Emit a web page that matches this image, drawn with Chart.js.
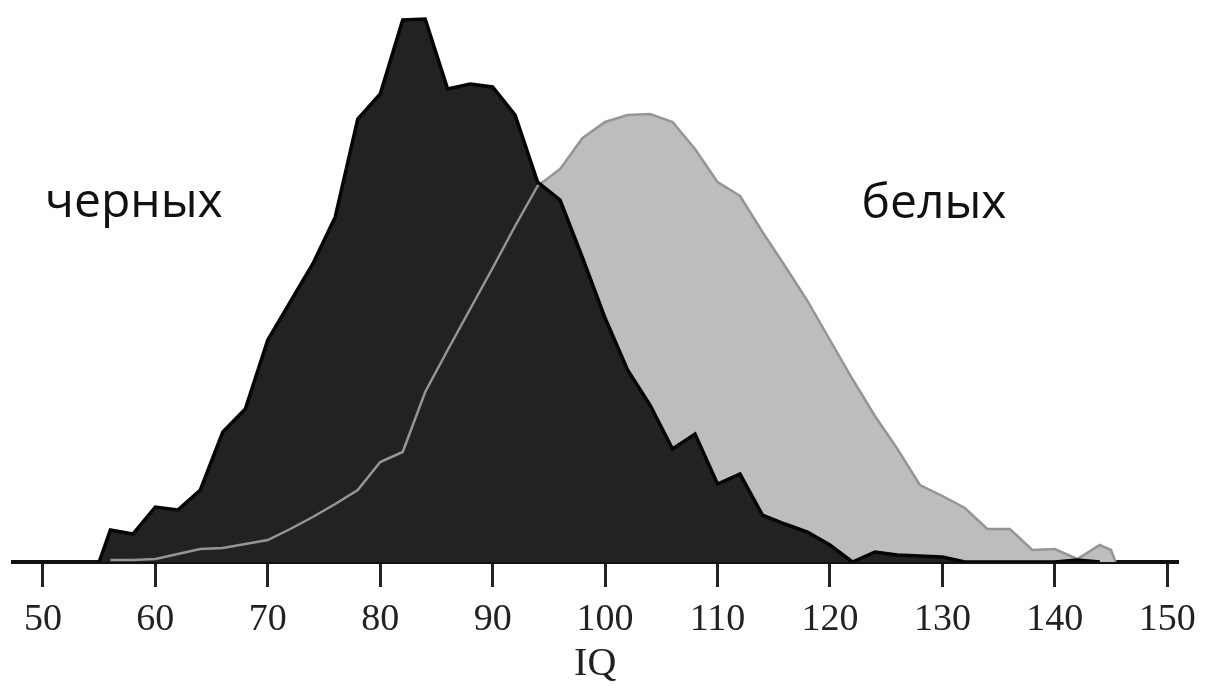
<!DOCTYPE html>
<html>
<head>
<meta charset="utf-8">
<script src="https://cdn.jsdelivr.net/npm/chart.js@4.4.1/dist/chart.umd.min.js"></script>
<style>
html, body { margin: 0; padding: 0; background: #fff; }
#wrap { width: 1210px; height: 692px; }
</style>
</head>
<body>
<div id="wrap"><canvas id="iqChart"></canvas></div>
<script>
// IQ distribution (relative frequency)
const blackIQ = [55, 56, 58, 60, 62, 64, 66, 68, 70, 72, 74, 76, 78, 80, 82, 84, 86, 88, 90, 92, 94, 96, 98, 100,
                 102, 104, 106, 108, 110, 112, 114, 116, 118, 120, 122, 124, 126, 128, 130, 132, 134, 136, 138, 140, 142, 144];
const blackFreq = [0, 0.32, 0.28, 0.55, 0.52, 0.72, 1.30, 1.53, 2.22, 2.60, 2.98, 3.45, 4.43, 4.68, 5.42, 5.43, 4.73, 4.78, 4.75, 4.47, 3.80, 3.62, 3.04, 2.44,
                   1.92, 1.57, 1.13, 1.28, 0.78, 0.88, 0.47, 0.38, 0.30, 0.17, 0, 0.10, 0.07, 0.06, 0.05, 0, 0, 0, 0, 0, 0.02, 0];

const whiteIQ = [56, 58, 60, 62, 64, 66, 68, 70, 72, 74, 76, 78, 80, 82, 84, 86, 88, 90, 92, 94, 96, 98, 100,
                 102, 104, 106, 108, 110, 112, 114, 116, 118, 120, 122, 124, 126, 128, 130, 132, 134, 136, 138, 140, 142, 144, 145, 145.4];
const whiteFreq = [0.02, 0.02, 0.03, 0.08, 0.13, 0.14, 0.18, 0.22, 0.33, 0.45, 0.58, 0.72, 1.00, 1.10, 1.70, 2.12, 2.53, 2.94, 3.36, 3.76, 3.93, 4.24, 4.40,
                   4.47, 4.48, 4.40, 4.13, 3.80, 3.66, 3.30, 2.96, 2.61, 2.22, 1.83, 1.46, 1.13, 0.77, 0.66, 0.54, 0.33, 0.33, 0.12, 0.13, 0.03, 0.17, 0.12, 0];

const xTicks = [50, 60, 70, 80, 90, 100, 110, 120, 130, 140, 150];
const groupLabels = ['черных', 'белых'];
const axisTitle = 'IQ';

function toPoints(xs, ys){
    let pts = [];
    for(let i=0; i<xs.length; i++){
        pts.push({x: xs[i], y: ys[i]});
    }
    return pts;
}

// draws the two group names inside the plot
const groupLabelPlugin = {
    id: 'groupLabels',
    afterDraw(chart){
        const ctx = chart.ctx;
        const x = chart.scales.x, y = chart.scales.y;
        ctx.save();
        ctx.font = '48px "Open Sans"';
        ctx.fillStyle = '#111';
        ctx.textBaseline = 'alphabetic';
        ctx.fillText(groupLabels[0], x.getPixelForValue(50.17), y.getPixelForValue(3.45));
        ctx.fillText(groupLabels[1], x.getPixelForValue(122.8), y.getPixelForValue(3.44));
        ctx.restore();
    }
};

const canvas = document.getElementById('iqChart').getContext('2d');
new Chart(canvas, {
    type: 'line',
    data: {
        datasets: [
            {
                label: groupLabels[0],
                data: toPoints(blackIQ, blackFreq),
                borderColor: '#050505',
                borderWidth: 3.5,
                backgroundColor: '#222222',
                fill: 'origin',
                pointRadius: 0,
                tension: 0
            },
            {
                label: groupLabels[1],
                data: toPoints(whiteIQ, whiteFreq),
                borderColor: '#959595',
                borderWidth: 2.5,
                backgroundColor: '#bdbdbd',
                fill: 'origin',
                pointRadius: 0,
                tension: 0
            }
        ]
    },
    options: {
        responsive: true,
        maintainAspectRatio: false,
        animation: false,
        layout: {
            padding: {left: 13, right: 28, top: 12, bottom: 0}
        },
        plugins: {
            legend: {display: false},
            tooltip: {enabled: false},
            filler: {drawTime: 'beforeDatasetsDraw'}
        },
        scales: {
            x: {
                type: 'linear',
                min: 47.34,
                max: 150.9,
                afterBuildTicks: (scale) => {
                    scale.ticks = xTicks.map(v => ({value: v}));
                },
                afterFit: (scale) => {
                    scale.height = 130;
                },
                grid: {
                    drawOnChartArea: false,
                    drawTicks: true,
                    tickLength: 25,
                    color: '#222',
                    lineWidth: 3
                },
                border: {display: true, color: '#111', width: 4},
                ticks: {
                    padding: 14,
                    maxRotation: 0,
                    autoSkip: false,
                    color: '#222',
                    font: {family: '"Liberation Serif"', size: 38, lineHeight: 1.0}
                },
                title: {
                    display: true,
                    text: axisTitle,
                    color: '#222',
                    padding: {top: 0, bottom: 4},
                    font: {family: '"Liberation Serif"', size: 40}
                }
            },
            y: {
                display: false,
                min: 0,
                max: 5.5
            }
        }
    },
    plugins: [groupLabelPlugin]
});
</script>
</body>
</html>
